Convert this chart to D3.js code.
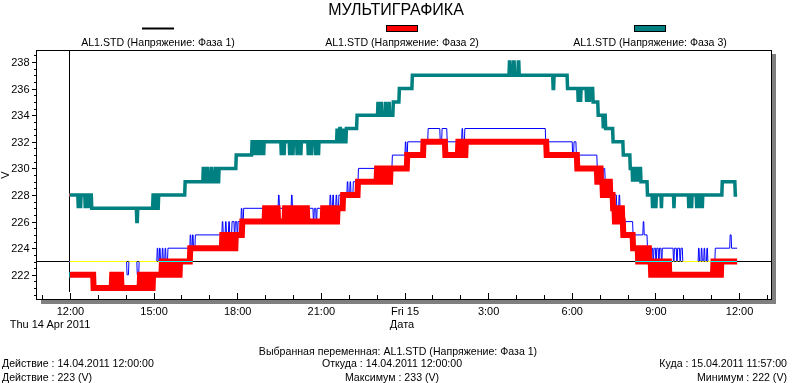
<!DOCTYPE html>
<html><head><meta charset="utf-8">
<script src="https://cdn.jsdelivr.net/npm/d3@7"></script>
<style>
html,body{margin:0;padding:0;background:#fff;}
svg{display:block;font-family:"Liberation Sans",Arial,sans-serif;isolation:isolate;}
</style></head><body>
<svg id="c" width="792" height="383"></svg>
<script>
// ---------- data (minutes after 14.04.2011 12:00, value in V) ----------
const chartTitle = "МУЛЬТИГРАФИКА";
const seriesNames = ["AL1.STD (Напряжение: Фаза 1)", "AL1.STD (Напряжение: Фаза 2)", "AL1.STD (Напряжение: Фаза 3)"];
const legendColors = ["#000000", "#ff0000", "#008080"];
const lineColors = ["#0000ff", "#ff0000", "#008080"];

const phase1 = [[0,223],[124,222],[128,223],[146,222],[150,223],[189,224],[191,223],[194,224],[196,223],[200,224],[202,223],[206,224],[208,223],[212,224],[260,225],[262,224],[265,225],[267,224],[271,225],[329,226],[331,225],[336,226],[338,225],[343,226],[345,225],[350,226],[355,225],[357,226],[361,225],[363,226],[370,227],[372,226],[375,227],[450,228],[452,227],[478,228],[480,227],[525,226],[527,227],[531,226],[533,227],[561,228],[563,227],[567,228],[569,227],[574,228],[576,227],[580,228],[598,229],[600,228],[604,229],[606,228],[611,229],[622,230],[695,231],[723,232],[725,231],[728,232],[772,233],[798,232],[802,233],[813,232],[845,233],[847,232],[851,233],[1025,232],[1083,231],[1086,232],[1091,231],[1136,230],[1147,229],[1149,230],[1153,229],[1166,228],[1178,227],[1183,228],[1185,227],[1192,226],[1213,225],[1235,226],[1237,225],[1244,224],[1250,223],[1252,224],[1256,223],[1258,224],[1262,223],[1264,224],[1268,223],[1270,224],[1274,223],[1276,224],[1300,223],[1302,224],[1307,223],[1309,224],[1314,223],[1316,224],[1320,223],[1354,224],[1356,223],[1360,224],[1362,223],[1366,224],[1368,223],[1372,224],[1374,223],[1390,224],[1422,225],[1425,224],[1437,224]];

const phase2 = [[0,222],[52,221],[92,222],[96,221],[100,222],[104,221],[108,222],[112,221],[152,222],[156,221],[160,222],[165,221],[170,222],[175,221],[180,222],[199,223],[203,222],[208,223],[213,222],[218,223],[223,222],[228,223],[233,222],[238,223],[260,224],[329,225],[333,224],[338,225],[343,224],[348,225],[353,224],[358,225],[372,226],[421,227],[425,226],[429,227],[433,226],[437,227],[441,226],[445,227],[449,226],[464,227],[468,226],[472,227],[476,226],[480,227],[484,226],[492,227],[496,226],[500,227],[504,226],[508,227],[512,226],[546,227],[550,226],[555,227],[561,226],[566,227],[572,226],[577,227],[589,228],[621,229],[662,230],[666,229],[671,230],[676,229],[681,230],[686,229],[691,230],[727,231],[762,232],[809,231],[837,232],[841,231],[845,232],[849,231],[853,232],[1027,231],[1093,230],[1136,229],[1140,230],[1144,229],[1148,228],[1152,229],[1156,228],[1160,229],[1164,228],[1170,227],[1174,226],[1178,227],[1182,226],[1186,227],[1190,226],[1192,225],[1213,224],[1224,223],[1228,224],[1232,223],[1236,224],[1240,223],[1244,224],[1248,223],[1252,222],[1257,223],[1262,222],[1266,223],[1271,222],[1276,223],[1281,222],[1286,223],[1291,222],[1386,223],[1390,222],[1395,223],[1399,222],[1403,223],[1437,223]];

const phase3 = [[0,228],[19,227],[20,228],[24,227],[25,228],[34,227],[35,228],[41,227],[42,228],[48,227],[145,226],[147,227],[180,228],[182,227],[186,228],[188,227],[192,228],[249,229],[288,230],[290,229],[296,230],[298,229],[305,230],[307,229],[314,230],[316,229],[322,230],[359,231],[393,232],[399,231],[400,232],[405,231],[406,232],[411,231],[412,232],[418,231],[419,232],[456,231],[457,232],[462,231],[463,232],[474,231],[475,232],[481,231],[482,232],[490,231],[491,232],[498,231],[499,232],[514,231],[515,232],[521,231],[522,232],[530,231],[531,232],[536,231],[537,232],[576,233],[577,232],[582,233],[584,232],[590,233],[591,232],[596,233],[619,234],[664,235],[665,234],[671,235],[672,234],[680,235],[681,234],[688,235],[689,234],[697,235],[710,236],[738,237],[947,238],[949,237],[956,238],[958,237],[966,238],[968,237],[1041,236],[1043,237],[1072,236],[1095,235],[1096,236],[1100,235],[1101,236],[1113,235],[1114,236],[1119,235],[1120,236],[1127,235],[1138,234],[1149,233],[1150,234],[1154,233],[1170,232],[1192,231],[1207,230],[1212,229],[1213,230],[1218,229],[1219,230],[1225,229],[1226,230],[1230,229],[1244,228],[1255,227],[1256,228],[1262,227],[1263,228],[1274,227],[1275,228],[1301,227],[1302,228],[1333,227],[1334,228],[1339,227],[1340,228],[1350,227],[1351,228],[1356,227],[1357,228],[1362,227],[1363,228],[1405,229],[1433,228],[1437,228]];

const xTickLabels = ["12:00", "15:00", "18:00", "21:00", "Fri 15", "3:00", "6:00", "9:00", "12:00"];
const yTickLabels = ["222", "224", "226", "228", "230", "232", "234", "236", "238"];
const cursorMinute = 0;
const cursorValue = 223;
const infoSelected = "Выбранная переменная: AL1.STD (Напряжение: Фаза 1)";
const infoLeft = ["Действие : 14.04.2011 12:00:00", "Действие : 223 (V)"];
const infoMid = ["Откуда : 14.04.2011 12:00:00", "Максимум : 233 (V)"];
const infoRight = ["Куда : 15.04.2011 11:57:00", "Минимум : 222 (V)"];

// ---------- drawing ----------
const svg = d3.select("#c");
const FONT = 11, FONT2 = 10.6;
svg.append("rect").attr("width", 792).attr("height", 383).attr("fill", "#fff");

const t0 = new Date(2011, 3, 14, 12, 0);
const toDate = m => new Date(t0.getTime() + m * 60000);
const L = 36, R = 772, T = 50, B = 299;
const x = d3.scaleTime().domain([new Date(2011, 3, 14, 10, 48), new Date(2011, 3, 15, 13, 12)]).range([L, R]);
const y = d3.scaleLinear().domain([223 - 37.5 / 13.3, 223 + 211.5 / 13.3]).range([B, T]);

// title
svg.append("text").attr("x", 396).attr("y", 15).attr("text-anchor", "middle")
  .attr("font-size", 16).attr("fill", "#000").text(chartTitle);

// legend
const legX = [158, 402, 650];
seriesNames.forEach((n, i) => {
  if (i === 0) {
    svg.append("rect").attr("x", legX[i] - 16).attr("y", 27.5).attr("width", 32).attr("height", 2).attr("fill", legendColors[i]);
  } else {
    svg.append("rect").attr("x", legX[i] - 15.5).attr("y", 25.5).attr("width", 31).attr("height", 6)
      .attr("fill", legendColors[i]).attr("stroke", "#000").attr("stroke-width", 1);
  }
  svg.append("text").attr("x", legX[i]).attr("y", 45.5).attr("text-anchor", "middle")
    .attr("font-size", FONT2).attr("fill", "#000").text(n);
});

// frame with shadow
svg.append("rect").attr("x", 41).attr("y", 54).attr("width", 735).attr("height", 250).attr("fill", "#808080");
svg.append("rect").attr("x", L + 0.5).attr("y", T + 0.5).attr("width", R - L - 1).attr("height", B - T)
  .attr("fill", "#fff").attr("stroke", "#000").attr("shape-rendering", "crispEdges");

// y axis
const yMinor = d3.range(220.5, 238.51, 0.5);
const yMajor = yTickLabels.map(Number);
const gyMinor = svg.append("g").attr("transform", `translate(${L + 0.5},0)`)
  .call(d3.axisLeft(y).tickValues(yMinor).tickSize(3).tickFormat(""));
gyMinor.select(".domain").remove();
const gy = svg.append("g").attr("transform", `translate(${L + 0.5},0)`)
  .call(d3.axisLeft(y).tickValues(yMajor).tickSize(5).tickPadding(2).tickFormat((d, i) => yTickLabels[i]));
gy.select(".domain").remove();
gy.selectAll("text").attr("font-size", FONT).attr("font-family", null).attr("fill", "#000");

svg.append("text").attr("transform", "translate(9,175) rotate(-90)").attr("text-anchor", "middle")
  .attr("font-size", FONT).attr("fill", "#000").text("V");

// x axis
const xMinor = d3.timeHour.range(new Date(2011, 3, 14, 11, 0), new Date(2011, 3, 15, 13, 1));
const xMajor = d3.timeHour.every(3).range(new Date(2011, 3, 14, 12, 0), new Date(2011, 3, 15, 12, 1));
const gxMinor = svg.append("g").attr("transform", `translate(0.5,${B})`)
  .call(d3.axisBottom(x).tickValues(xMinor).tickSize(-4).tickFormat(""));
gxMinor.select(".domain").remove();
const gx = svg.append("g").attr("transform", `translate(0.5,${B})`)
  .call(d3.axisBottom(x).tickValues(xMajor).tickSize(-6).tickPadding(8).tickFormat((d, i) => xTickLabels[i]));
gx.select(".domain").remove();
svg.selectAll("g .tick line").attr("stroke", "#000").attr("shape-rendering", "crispEdges");
gx.selectAll("text").attr("font-size", FONT).attr("font-family", null).attr("fill", "#000");

svg.append("text").attr("x", 50).attr("y", 328).attr("text-anchor", "middle").attr("font-size", FONT).text("Thu 14 Apr 2011");
svg.append("text").attr("x", 402).attr("y", 328).attr("text-anchor", "middle").attr("font-size", FONT).text("Дата");

// series: 1-minute samples -> each level change happens over one sample interval
const RAMP = x(toDate(1)) - x(toDate(0));
function curveSampled(context) {
  let px, py, n;
  return {
    areaStart() {}, areaEnd() {},
    lineStart() { n = 0; },
    lineEnd() {},
    point(xx, yy) {
      xx = +xx; yy = +yy;
      if (n++ === 0) { context.moveTo(xx, yy); }
      else {
        if (yy !== py) {
          if (xx - RAMP > px + 1e-6) context.lineTo(xx - RAMP, py);
          context.lineTo(xx, yy);
        } else {
          context.lineTo(xx, yy);
        }
      }
      px = xx; py = yy;
    }
  };
}
const line = d3.line().x(d => x(toDate(d[0]))).y(d => y(d[1])).curve(curveSampled);
const plot = svg.append("g");
plot.append("path").datum(phase1).attr("d", line).attr("fill", "none")
  .attr("stroke", lineColors[0]).attr("stroke-width", 1);
plot.append("path").datum(phase2).attr("d", line).attr("fill", "none")
  .attr("stroke", lineColors[1]).attr("stroke-width", 6).attr("stroke-linejoin", "miter");
plot.append("path").datum(phase3).attr("d", line).attr("fill", "none")
  .attr("stroke", lineColors[2]).attr("stroke-width", 3.5).attr("stroke-linejoin", "miter");

// cursor (XOR-like: white with difference blending)
const cx = Math.round(x(toDate(cursorMinute))) + 0.5;
const cy = y(cursorValue);
plot.append("line").attr("x1", cx).attr("x2", cx).attr("y1", T + 1).attr("y2", 292)
  .attr("stroke", "#fff").style("mix-blend-mode", "difference");
plot.append("line").attr("x1", L + 1).attr("x2", R - 1).attr("y1", cy).attr("y2", cy)
  .attr("stroke", "#fff").style("mix-blend-mode", "difference");

// info text
svg.append("text").attr("x", 398).attr("y", 355).attr("text-anchor", "middle").attr("font-size", FONT2).text(infoSelected);
infoLeft.forEach((s, i) => svg.append("text").attr("x", 2).attr("y", 367 + i * 14).attr("font-size", FONT2).text(s));
infoMid.forEach((s, i) => svg.append("text").attr("x", 392).attr("y", 367 + i * 14).attr("text-anchor", "middle").attr("font-size", FONT2).text(s));
infoRight.forEach((s, i) => svg.append("text").attr("x", 787).attr("y", 367 + i * 14).attr("text-anchor", "end").attr("font-size", FONT2).text(s));
</script>
</body></html>
